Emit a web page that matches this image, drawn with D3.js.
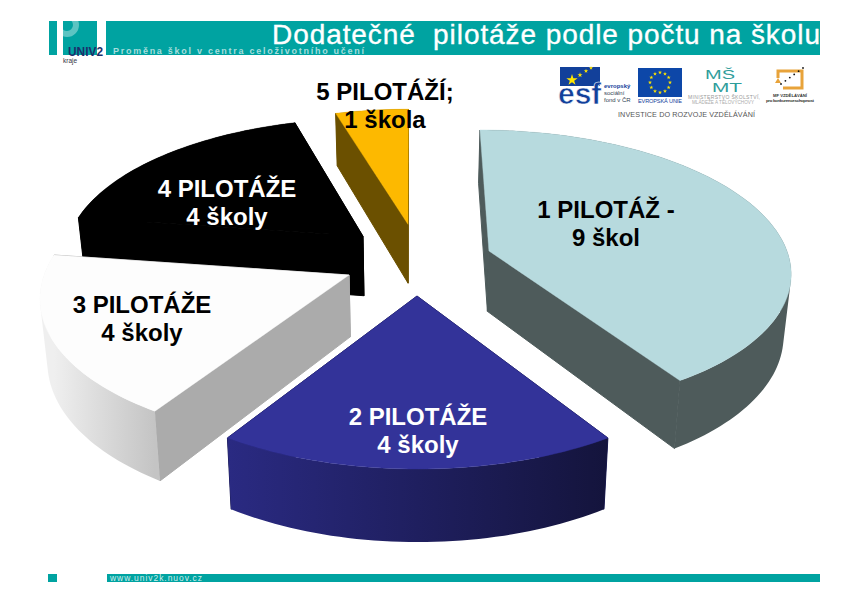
<!DOCTYPE html>
<html lang="cs">
<head>
<meta charset="utf-8">
<title>Dodatečné pilotáže podle počtu na školu</title>
<script src="https://cdn.jsdelivr.net/npm/d3@7/dist/d3.min.js"></script>
<style>
html,body{margin:0;padding:0;background:#fff}
svg{display:block}
text{font-family:"Liberation Sans",Arial,sans-serif}
</style>
</head>
<body>
<svg id="c" width="842" height="595" viewBox="0 0 842 595"></svg>
<script>
// ---- data ----
const chartTitle = "Dodatečné  pilotáže podle počtu na školu";
const categories = ["1 PILOTÁŽ -", "2 PILOTÁŽE", "3 PILOTÁŽE", "4 PILOTÁŽE", "5 PILOTÁŽÍ;"];
const schoolLabels = ["9 škol", "4 školy", "4 školy", "4 školy", "1 škola"];
const schoolCounts = [9, 4, 4, 4, 1];
// ---- styling and layout, per slice ----
const topColors = ["#b7dade", "#333399", "#fdfdfd", "#000000", "#fdb900"];
const wallColors = ["#4e5b5b", "#1a1a55", "#ababab", "#000000", "#6b5000"];
const rimColors = [["#4e5b5b","#4e5b5b"], ["#14143c","#2a2a82"], ["#c4c4c4","#efefef"], ["#000000","#000000"], ["#6b5000","#6b5000"]];
const labelColors = ["#000", "#fff", "#000", "#fff", "#000"];
const explodeU = [80.3, 5, -64.2, -51.9, -4.3];
const explodeV = [-98, 0, -44.6, -132, -160];
const labelAnchors = [[606,218],[418,425],[142,313],[227,197],[385,100]];
const drawOrder = [4, 3, 2, 0, 1];

const svg = d3.select("#c");
const defs = svg.append("defs");
const TEAL = "#00a3a1";

// perspective ground-plane projection
const R = 311, k = 0.000444, cx = 412, vanishY = -784, focal = 1080, H = 63, squeeze = 0.02;
function project(u, v, h) {
  const s = 1 / (1 - k * v);
  return [cx + u * s * (1 - squeeze * h), vanishY + focal * s + H * h * s];
}
const pieAngles = d3.pie().sort(null).value(d => d)(schoolCounts);
const path = d3.line().curve(d3.curveLinear);

// header
svg.append("rect").attr("x",49).attr("y",21).attr("width",8).attr("height",34).attr("fill",TEAL);
svg.append("rect").attr("x",63).attr("y",21).attr("width",34).attr("height",34).attr("fill",TEAL);
defs.append("clipPath").attr("id","logoClip").append("rect").attr("x",63).attr("y",21).attr("width",34).attr("height",34);
svg.append("circle").attr("cx",67).attr("cy",25).attr("r",9).attr("fill","none").attr("stroke","#5cc4c2").attr("stroke-width",6).attr("clip-path","url(#logoClip)");
svg.append("rect").attr("x",106).attr("y",21).attr("width",714).attr("height",34).attr("fill",TEAL);
svg.append("text").attr("x",68).attr("y",55.5).attr("font-size",13).attr("font-weight",700).attr("fill","#1c2f6b").attr("textLength",35).attr("lengthAdjust","spacingAndGlyphs").text("UNIV2");
svg.append("text").attr("x",63).attr("y",63).attr("font-size",6.5).attr("fill","#334").text("kraje");
svg.append("text").attr("x",113).attr("y",54).attr("font-size",9).attr("font-weight",700).attr("fill","#a8dedd").attr("textLength",251).text("Proměna škol v centra celoživotního učení");
svg.append("text").attr("x",272).attr("y",44).attr("font-size",28).attr("fill","#fff").attr("stroke","#fff").attr("stroke-width",.35).attr("textLength",548).style("white-space","pre").text(chartTitle);

// footer
svg.append("rect").attr("x",48).attr("y",574).attr("width",9).attr("height",8).attr("fill",TEAL);
svg.append("rect").attr("x",107).attr("y",574).attr("width",713).attr("height",8).attr("fill",TEAL);
svg.append("text").attr("x",110).attr("y",581).attr("font-size",8.5).attr("fill","#cdeeed").attr("textLength",92).text("www.univ2k.nuov.cz");

// logos
const logos = svg.append("g");
logos.append("rect").attr("x",560).attr("y",67).attr("width",40).attr("height",19).attr("fill","#12409a");
logos.append("path").attr("transform","translate(572,80)").attr("d",d3.symbol(d3.symbolStar,40)()).attr("fill","#ffe600");
[[580,75,8],[586,71,6],[591,68,5]].forEach(d => logos.append("path").attr("transform",`translate(${d[0]},${d[1]})`).attr("d",d3.symbol(d3.symbolStar,d[2])()).attr("fill","#ffe600"));
logos.append("text").attr("x",558).attr("y",104).attr("font-size",30).attr("font-weight",700).attr("fill","#12409a").attr("stroke","#fff").attr("stroke-width",.6).text("esf");
[["evropský",88,700,"#12409a"],["sociální",95,400,"#345"],["fond v ČR",102,400,"#345"]].forEach(d =>
  logos.append("text").attr("x",604).attr("y",d[1]).attr("font-size",6).attr("font-weight",d[2]).attr("fill",d[3]).text(d[0]));
logos.append("rect").attr("x",638).attr("y",68).attr("width",44).attr("height",29).attr("fill","#0d47a8");
d3.range(12).forEach(i => {
  const a = i / 12 * 2 * Math.PI;
  logos.append("path").attr("transform",`translate(${660 + 10 * Math.sin(a)},${82.5 - 10 * Math.cos(a)})`).attr("d",d3.symbol(d3.symbolStar,5)()).attr("fill","#ffe600");
});
logos.append("text").attr("x",638).attr("y",103).attr("font-size",5.6).attr("fill","#12409a").attr("textLength",44).text("EVROPSKÁ UNIE");
logos.append("text").attr("x",618).attr("y",116.5).attr("font-size",7.2).attr("fill","#555").attr("textLength",137).text("INVESTICE DO ROZVOJE VZDĚLÁVÁNÍ");
logos.append("text").attr("x",705).attr("y",78.5).attr("font-size",12).attr("fill","#2f9d9b").attr("textLength",30).attr("lengthAdjust","spacingAndGlyphs").text("MŠ");
logos.append("text").attr("x",712).attr("y",92).attr("font-size",12).attr("fill","#2f9d9b").attr("textLength",30).attr("lengthAdjust","spacingAndGlyphs").text("MT");
logos.append("text").attr("x",688).attr("y",98.5).attr("font-size",5).attr("fill","#999").attr("textLength",72).text("MINISTERSTVO ŠKOLSTVÍ,");
logos.append("text").attr("x",692).attr("y",104).attr("font-size",4.6).attr("fill","#aaa").attr("textLength",62).text("MLÁDEŽE A TĚLOVÝCHOVY");
logos.append("path").attr("d","M778 78V71H802V88H783").attr("fill","none").attr("stroke","#e8a33a").attr("stroke-width",3);
logos.append("path").attr("d","M778 78l-3 5h6z").attr("fill","#e8a33a");
d3.range(6).forEach(i => logos.append("circle").attr("cx",781 + i * 4.4).attr("cy",84 - i * 3.2).attr("r",.9).attr("fill","#111"));
logos.append("text").attr("x",790).attr("y",96.5).attr("text-anchor","middle").attr("font-size",4.2).attr("font-weight",700).attr("fill","#333").text("MF VZDĚLÁVÁNÍ");
logos.append("text").attr("x",766).attr("y",102).attr("font-size",4.4).attr("font-weight",700).attr("fill","#333").attr("textLength",48).text("pro konkurenceschopnost");

// pie
const slices = svg.append("g");
drawOrder.forEach(i => {
  const a = pieAngles[i], ou = explodeU[i], ov = explodeV[i];
  const n = Math.max(8, Math.round((a.endAngle - a.startAngle) * 40));
  const thetas = d3.range(n + 1).map(j => a.startAngle + (a.endAngle - a.startAngle) * j / n);
  const ground = thetas.map(t => [ou + R * Math.sin(t), ov - R * Math.cos(t)]);
  const topRim = ground.map(p => project(p[0], p[1], 0));
  const lowRim = ground.map(p => project(p[0], p[1], 1));
  const g = slices.append("g");
  // radial walls (furthest first)
  const rim0 = ground[0], rim1 = ground[n];
  [rim0, rim1].sort((p, q) => p[1] - q[1]).forEach(p => {
    g.append("path").attr("fill", wallColors[i]).attr("stroke", wallColors[i]).attr("stroke-width", 1)
      .attr("d", path([project(ou,ov,0), project(p[0],p[1],0), project(p[0],p[1],1), project(ou,ov,1)]) + "Z");
  });
  // rim: same-orientation quads in one path, so the band folds without holes or seams
  const grad = defs.append("linearGradient").attr("id", "rim" + i).attr("gradientUnits", "userSpaceOnUse")
    .attr("x1", topRim[0][0]).attr("x2", topRim[n][0]).attr("y1", 0).attr("y2", 0);
  grad.append("stop").attr("offset", 0).attr("stop-color", rimColors[i][0]);
  grad.append("stop").attr("offset", 1).attr("stop-color", rimColors[i][1]);
  const rimPath = d3.range(n).map(j => {
    const q = [topRim[j], topRim[j + 1], lowRim[j + 1], lowRim[j]];
    return path(d3.polygonArea(q) < 0 ? q.reverse() : q) + "Z";
  }).join("");
  g.append("path").attr("fill", `url(#rim${i})`).attr("d", rimPath);
  // top face
  const face = [project(ou,ov,0)].concat(topRim);
  g.append("path").attr("fill", topColors[i]).attr("stroke", topColors[i]).attr("stroke-width", .4).attr("d", path(face) + "Z");
});

// labels
const labels = svg.append("g").attr("text-anchor","middle").attr("font-size",24).attr("font-weight",700);
categories.forEach((c, i) => {
  const [x, y] = labelAnchors[i];
  labels.append("text").attr("x",x).attr("y",y).attr("fill",labelColors[i]).text(c);
  labels.append("text").attr("x",x).attr("y",y + 28).attr("fill",labelColors[i]).text(schoolLabels[i]);
});
</script>
</body>
</html>
